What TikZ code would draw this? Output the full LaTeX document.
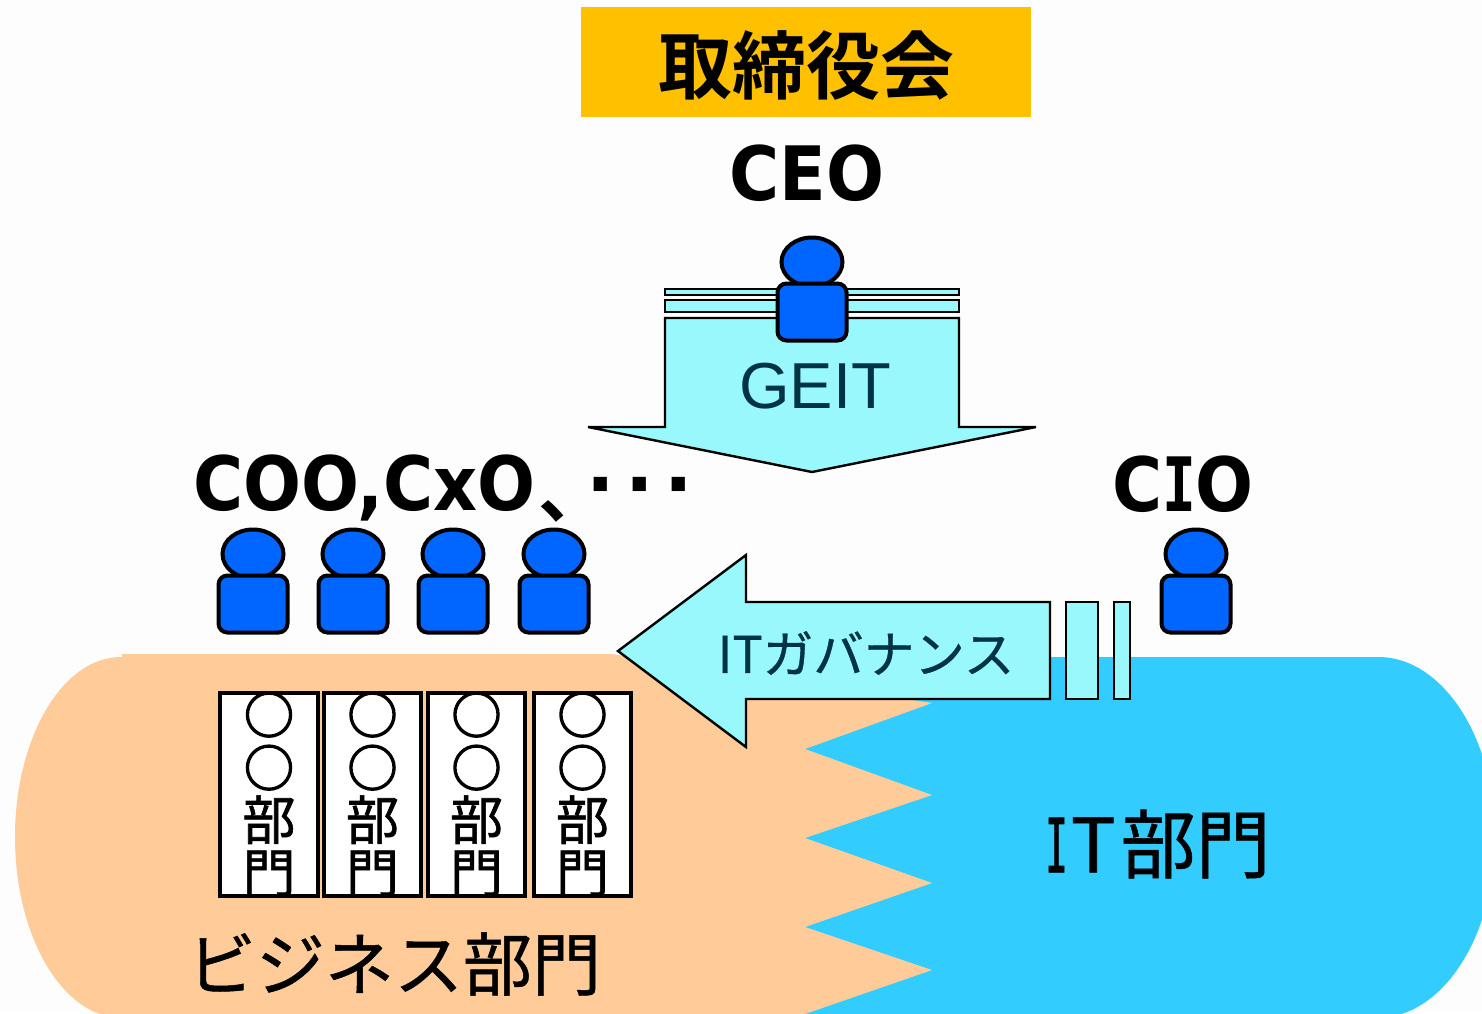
\documentclass[tikz,border=0pt]{standalone}
\usepackage{fontspec}
\setmainfont{Noto Sans CJK JP}
\newfontfamily\latinb{DejaVu Sans Bold}[FakeStretch=0.91]
\newfontfamily\latindot{DejaVu Sans Bold}
\newfontfamily\monoi{DejaVu Sans Mono Bold}[FakeStretch=0.75]
\newfontfamily\monoj{DejaVu Sans Mono}[FakeStretch=0.5,FakeBold=1]
\newfontfamily\arialf{Liberation Sans}
\newfontfamily\cjkf{Noto Sans CJK JP}[FakeBold=0.7]
\newfontfamily\cjkd{Noto Sans CJK JP}[FakeBold=1.2]
\newfontfamily\cjkc{Noto Sans CJK JP}[FakeBold=3]
\newfontfamily\cjkb{Noto Sans CJK JP Bold}
\usetikzlibrary{shapes.geometric}
\definecolor{bgc}{HTML}{FDFDFD}
\definecolor{gold}{HTML}{FFC000}
\definecolor{aqua}{HTML}{99F8FC}
\definecolor{pblue}{HTML}{0066FF}
\definecolor{peach}{HTML}{FFCC99}
\definecolor{sky}{HTML}{33CCFF}
\definecolor{teal}{HTML}{003344}
\tikzset{
  x=1pt,y=-1pt,
  arrowshape/.style={draw=black,fill=aqua,line width=2.4pt,line join=miter},
  head/.style={draw=black,fill=pblue,line width=4pt,ellipse,inner sep=0pt,minimum width=61pt,minimum height=49pt},
  torso/.style={draw=black,fill=pblue,line width=4pt,rounded corners=9pt,inner sep=0pt,minimum width=69pt,minimum height=57pt},
  dept/.style={draw=black,fill=white,line width=4pt,inner sep=0pt,minimum height=203pt},
  depttext/.style={inner sep=0pt,align=center,font=\fontsize{53}{53}\selectfont\cjkd},
  title/.style={inner sep=0pt,font=\fontsize{75}{78}\selectfont\latinb},
}
\begin{document}
\begin{tikzpicture}
\useasboundingbox (0,0) rectangle (1482,1013);
\fill[bgc] (0,0) rectangle (1482,1013);
\begin{scope}
\clip (0,0) rectangle (1482,1013);
\fill[sky] (800,657) -- (1377,657) .. controls (1442,656) and (1495,737) .. (1495,837) .. controls (1495,937) and (1442,1018) .. (1377,1018) -- (800,1018) -- cycle;
\fill[peach] (122,654) -- (612,654) -- (932,703) -- (805,749) -- (932,795) -- (805,838) -- (932,883) -- (805,927) -- (932,970) -- (805,1014) -- (805,1018) -- (122,1018)
  .. controls (63,1018) and (15,937) .. (15,837) .. controls (15,737) and (63,656) .. (122,657) -- cycle;
\end{scope}
\node[fill=gold,minimum width=450pt,minimum height=110pt,inner sep=0pt] (board) at (806,62) {};
\node[inner sep=0pt,font=\fontsize{74}{76}\selectfont\cjkb] (boardtext) at (806,65) {取締役会};
\node[title] (ceo) at (807,173) {CEO};
% down arrow
\draw[arrowshape] (665,289) rectangle (959,295);
\draw[arrowshape] (665,300) rectangle (959,312);
\draw[arrowshape] (665,318) -- (959,318) -- (959,427) -- (1036,427) -- (812,472) -- (588,427) -- (665,427) -- cycle;
\node[inner sep=0pt,text=teal,font=\fontsize{65}{70}\selectfont\arialf] (geit) at (815,386) {GEIT};
% persons
\foreach \n/\px/\py in {pceo/812/312,pa/253/604,pb/353/604,pc/453/604,pd/554/604,pcio/1196/604}{
  \node[head] (\n h) at (\px,\py-50) {};
  \node[torso] (\n b) at (\px,\py) {};
}
\node[title,anchor=base west] (coo) at (193,510) {COO,CxO\hspace{3pt}\makebox[48pt][l]{\cjkb\fontsize{70}{70}\selectfont\raisebox{-7pt}[0pt][0pt]{、}}{\latindot·\hspace{10.5pt}·\hspace{10.5pt}·}};
\node[title] (cio) at (1183,484) {C{\monoi I}O};
% left arrow
\draw[arrowshape] (1066,602) rectangle (1098,699);
\draw[arrowshape] (1114,602) rectangle (1130,699);
\draw[arrowshape] (1050,602) -- (746,602) -- (746,555) -- (618,651) -- (746,747) -- (746,699) -- (1050,699) -- cycle;
\node[inner sep=0pt,text=teal,font=\fontsize{50.5}{54}\selectfont\cjkf] (gov) at (866,653) {ITガバナンス};
% departments
\foreach \n/\lft/\rgt in {da/220/318,db/324/421,dc/428/525,dd/534/631}{
  \node[dept,minimum width={(\rgt-\lft)*1pt}] (\n) at ({(\lft+\rgt)/2},794.5) {};
  \node[depttext] (\n t) at ({(\lft+\rgt)/2},794.5) {{\cjkc\fontsize{50}{53}\selectfont ○}\\{\cjkc\fontsize{50}{53}\selectfont ○}\\部\\門};
}
\node[inner sep=0pt,font=\fontsize{69}{70}\selectfont\cjkf] (biz) at (394,964) {ビジネス部門};
\node[inner sep=0pt,anchor=west,font=\fontsize{75}{76}\selectfont\cjkf] (itd) at (1045,844) {{\monoj I}\hspace{3pt}T\hspace{5pt}部門};
\end{tikzpicture}
\end{document}
